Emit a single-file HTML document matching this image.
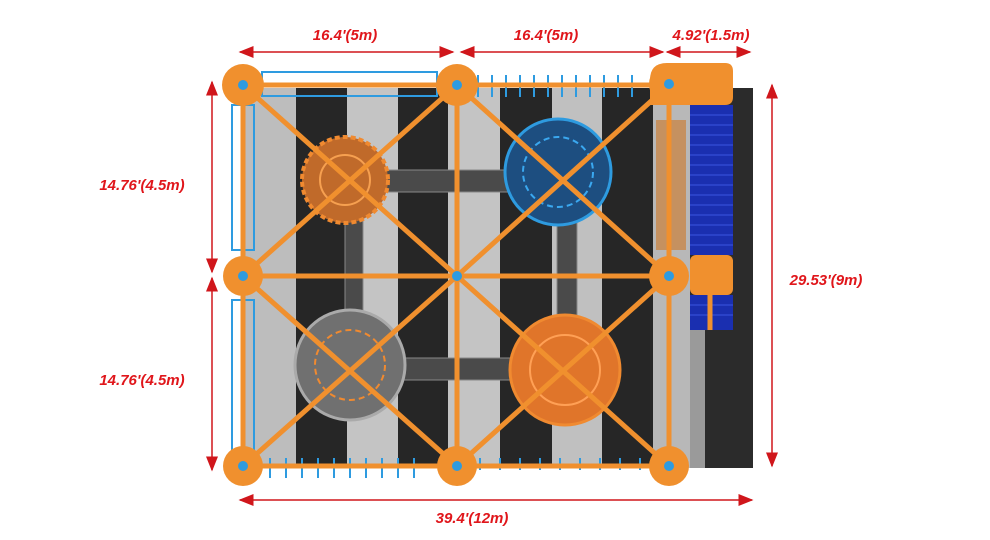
<!DOCTYPE html>
<html><head><style>body{margin:0;background:#fff}svg{display:block}text{font-family:"Liberation Sans",sans-serif;font-weight:bold;font-style:italic;fill:#e0161b;font-size:15px}</style></head><body>
<svg width="990" height="540" viewBox="0 0 990 540" xmlns="http://www.w3.org/2000/svg">
<defs><marker id="a" markerWidth="10" markerHeight="8" refX="9" refY="4" orient="auto-start-reverse"><path d="M0,0L10,4L0,8z" fill="#d0161b"/></marker></defs>
<!-- floor -->
<rect x="243" y="88" width="510" height="380" fill="#262626"/>
<rect x="243" y="88" width="53" height="380" fill="#bdbdbd"/>
<rect x="347" y="88" width="51" height="380" fill="#c4c4c4"/>
<rect x="448" y="88" width="52" height="380" fill="#c4c4c4"/>
<rect x="552" y="88" width="50" height="380" fill="#c0c0c0"/>
<rect x="653" y="88" width="37" height="380" fill="#b8b8b8"/>
<rect x="690" y="88" width="63" height="380" fill="#2b2b2b"/>
<rect x="690" y="330" width="15" height="138" fill="#9a9a9a"/>
<!-- stairs -->
<rect x="690" y="105" width="43" height="150" fill="#1a2fb0"/>
<rect x="690" y="295" width="43" height="35" fill="#1a2fb0"/>
<g stroke="#3b55e0" stroke-width="1"><path d="M690 115h43M690 125h43M690 135h43M690 145h43M690 155h43M690 165h43M690 175h43M690 185h43M690 195h43M690 205h43M690 215h43M690 225h43M690 235h43M690 245h43M690 305h43M690 315h43"/></g>
<rect x="656" y="120" width="30" height="130" fill="#c8874a" opacity=".8"/>
<!-- side frames -->
<rect x="232" y="105" width="22" height="145" fill="none" stroke="#2e9be0" stroke-width="2"/>
<rect x="232" y="300" width="22" height="150" fill="none" stroke="#2e9be0" stroke-width="2"/>
<rect x="262" y="72" width="175" height="24" fill="none" stroke="#2e9be0" stroke-width="2"/>
<path d="M478 75v22M492 75v22M506 75v22M520 75v22M534 75v22M548 75v22M562 75v22M576 75v22M590 75v22M604 75v22M618 75v22M632 75v22" stroke="#2e9be0" stroke-width="2"/>
<path d="M270 458v20M286 458v20M302 458v20M318 458v20M334 458v20M350 458v20M366 458v20M382 458v20M398 458v20M414 458v20M480 458v12M500 458v12M520 458v12M540 458v12M560 458v12M580 458v12M600 458v12M620 458v12M640 458v12" stroke="#2e9be0" stroke-width="2"/>
<!-- tunnels -->
<g fill="#4a4a4a" stroke="#888" stroke-width="1">
<rect x="378" y="170" width="140" height="22"/><rect x="345" y="210" width="18" height="110"/><rect x="557" y="215" width="20" height="110"/><rect x="400" y="358" width="115" height="22"/></g>
<!-- domes -->
<circle cx="345" cy="180" r="43" fill="#c06a2a" stroke="#f08a30" stroke-width="4" stroke-dasharray="5 3"/>
<circle cx="345" cy="180" r="25" fill="none" stroke="#f6a050" stroke-width="2"/>
<circle cx="558" cy="172" r="53" fill="#1d4e80" stroke="#2e9be0" stroke-width="3"/>
<circle cx="558" cy="172" r="35" fill="none" stroke="#3aa8f0" stroke-width="2" stroke-dasharray="6 4"/>
<circle cx="350" cy="365" r="55" fill="#707070" stroke="#aaa" stroke-width="3"/>
<circle cx="350" cy="365" r="35" fill="none" stroke="#f08a30" stroke-width="2" stroke-dasharray="6 4"/>
<circle cx="565" cy="370" r="55" fill="#e0752a" stroke="#f08a30" stroke-width="3"/>
<circle cx="565" cy="370" r="35" fill="none" stroke="#ffa055" stroke-width="2"/>
<!-- orange frame -->
<g stroke="#f0902e" stroke-width="5" fill="none">
<rect x="243" y="85" width="426" height="381"/>
<path d="M457 85V466M243 276H669M243 85L457 276L669 85M243 466L457 276L669 466M457 85L669 276L457 466L243 276L457 85"/>
<path d="M690 280H733M710 255V330"/></g>
<path d="M650 80q0-17 17-17h58q8 0 8 8v26q0 8-8 8h-75z" fill="#f0902e"/>
<rect x="690" y="255" width="43" height="40" rx="6" fill="#f0902e"/>
<g fill="#f0902e"><circle cx="243" cy="85" r="21"/><circle cx="457" cy="85" r="21"/><circle cx="669" cy="84" r="20"/><circle cx="243" cy="276" r="20"/><circle cx="669" cy="276" r="20"/><circle cx="243" cy="466" r="20"/><circle cx="457" cy="466" r="20"/><circle cx="669" cy="466" r="20"/></g>
<g fill="#2e9be0"><circle cx="243" cy="85" r="5"/><circle cx="457" cy="85" r="5"/><circle cx="669" cy="84" r="5"/><circle cx="243" cy="276" r="5"/><circle cx="457" cy="276" r="5"/><circle cx="669" cy="276" r="5"/><circle cx="243" cy="466" r="5"/><circle cx="457" cy="466" r="5"/><circle cx="669" cy="466" r="5"/></g>
<!-- dimensions -->
<g stroke="#d0161b" stroke-width="1.5">
<line x1="240" y1="52" x2="453" y2="52" marker-start="url(#a)" marker-end="url(#a)"/>
<line x1="461" y1="52" x2="663" y2="52" marker-start="url(#a)" marker-end="url(#a)"/>
<line x1="667" y1="52" x2="750" y2="52" marker-start="url(#a)" marker-end="url(#a)"/>
<line x1="212" y1="82" x2="212" y2="272" marker-start="url(#a)" marker-end="url(#a)"/>
<line x1="212" y1="278" x2="212" y2="470" marker-start="url(#a)" marker-end="url(#a)"/>
<line x1="772" y1="85" x2="772" y2="466" marker-start="url(#a)" marker-end="url(#a)"/>
<line x1="240" y1="500" x2="752" y2="500" marker-start="url(#a)" marker-end="url(#a)"/>
</g>
<text x="345" y="40" text-anchor="middle">16.4'(5m)</text>
<text x="546" y="40" text-anchor="middle">16.4'(5m)</text>
<text x="711" y="40" text-anchor="middle">4.92'(1.5m)</text>
<text x="142" y="190" text-anchor="middle">14.76'(4.5m)</text>
<text x="142" y="385" text-anchor="middle">14.76'(4.5m)</text>
<text x="826" y="285" text-anchor="middle">29.53'(9m)</text>
<text x="472" y="523" text-anchor="middle">39.4'(12m)</text>
</svg></body></html>
